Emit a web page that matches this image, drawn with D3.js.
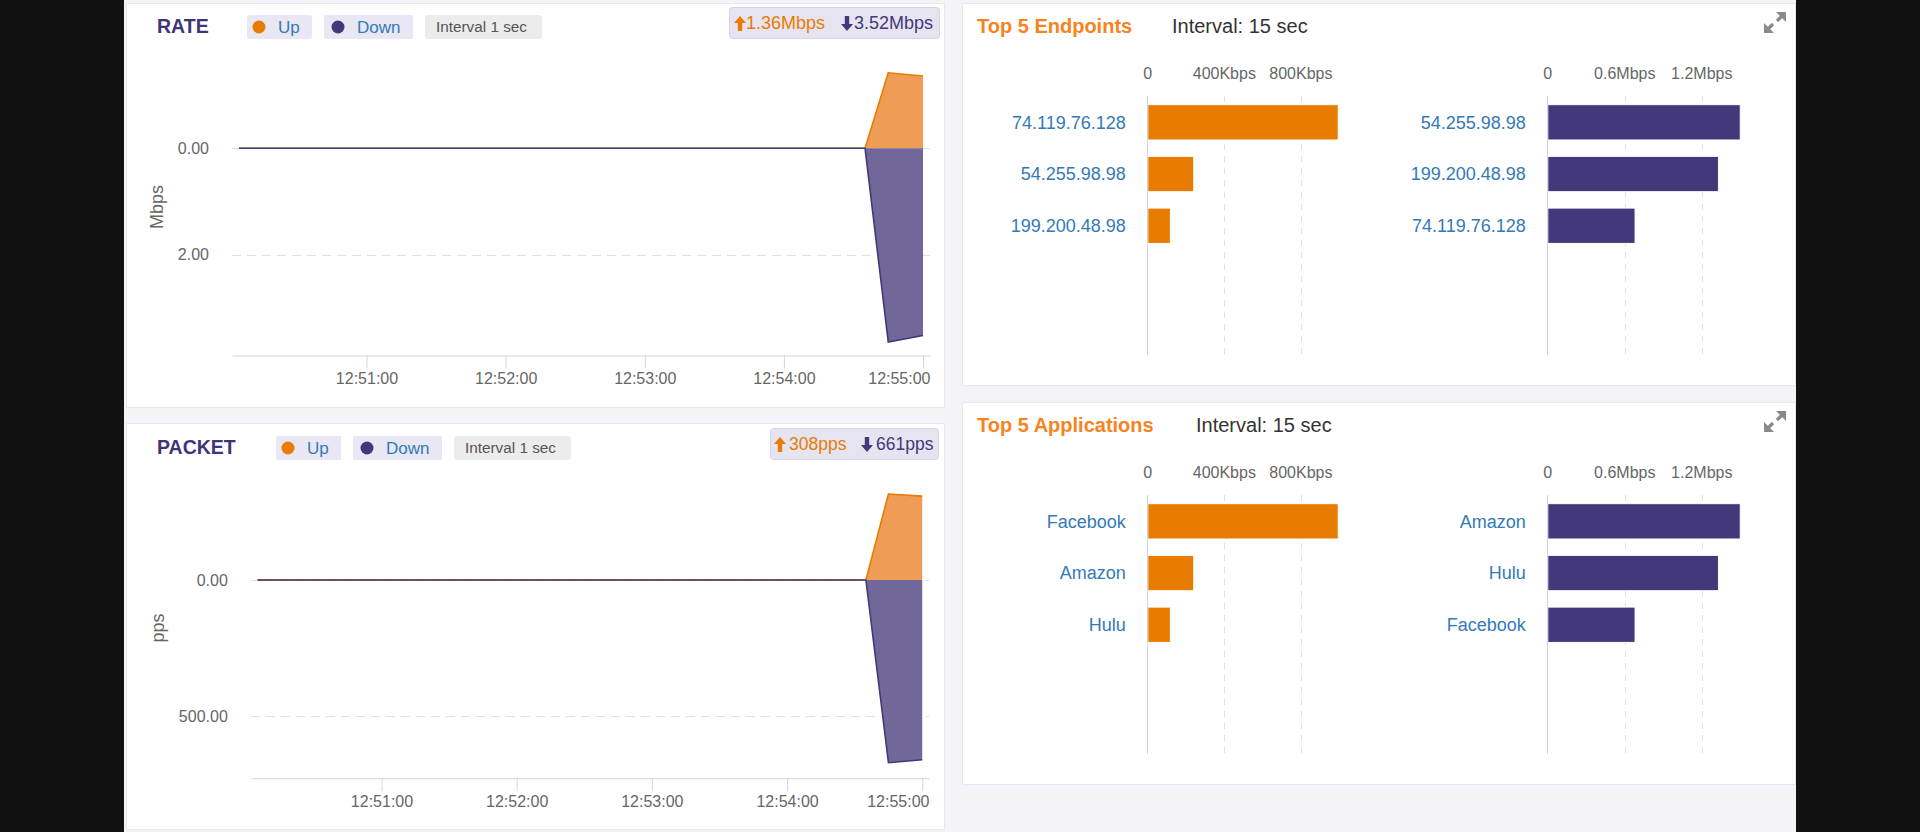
<!DOCTYPE html>
<html><head><meta charset="utf-8">
<script src="https://cdn.jsdelivr.net/npm/d3@7"></script>
<style>
html,body{margin:0;padding:0;background:#111;overflow:hidden;}
svg{display:block;font-family:"Liberation Sans",Arial,Helvetica,sans-serif;}
</style></head><body>
<svg id="c" width="1920" height="832"></svg>
<script>
// ---------- data ----------
const timeDomain = ["12:50:02","12:55:03"];
const timeTicks = ["12:51:00","12:52:00","12:53:00","12:54:00","12:55:00"];
const sampleTimes = ["12:50:05","12:54:35","12:54:45","12:55:00"];
const rateUp = [0, 0, 1.42, 1.36];
const rateDown = [0, 0, 3.64, 3.52];
const rateTicks = [0, 2];
const packetUp = [0, 0, 316, 308];
const packetDown = [0, 0, 672, 661];
const packetTicks = [0, 500];
const rateSummary = ["1.36Mbps", "3.52Mbps"];
const packetSummary = ["308pps", "661pps"];

const endpointsUpNames = ["74.119.76.128", "54.255.98.98", "199.200.48.98"];
const endpointsUpKbps = [995, 240, 118];
const endpointsDownNames = ["54.255.98.98", "199.200.48.98", "74.119.76.128"];
const endpointsDownMbps = [1.50, 1.33, 0.68];
const appsUpNames = ["Facebook", "Amazon", "Hulu"];
const appsUpKbps = [995, 240, 118];
const appsDownNames = ["Amazon", "Hulu", "Facebook"];
const appsDownMbps = [1.50, 1.33, 0.68];
const upTicks = [0, 400, 800];
const upTickLabels = ["0", "400Kbps", "800Kbps"];
const downTicks = [0, 0.6, 1.2];
const downTickLabels = ["0", "0.6Mbps", "1.2Mbps"];

// ---------- colours ----------
const ORANGE = "#E87C00", ORANGE_FILL = "#EF9D56";
const PURPLE = "#433879", PURPLE_FILL = "#726799";
const LINK = "#337ab7";

const svg = d3.select("#c");
svg.append("rect").attr("width",1920).attr("height",832).attr("fill","#111");
svg.append("rect").attr("x",124).attr("width",1672).attr("height",832).attr("fill","#f3f3f8");

function panel(x,y,w,h){
  svg.append("rect").attr("x",x+0.5).attr("y",y+0.5).attr("width",w).attr("height",h)
    .attr("fill","#fff").attr("stroke","#e7e7ee");
}
panel(126,3,818,404);
panel(126,423,818,406);
panel(962,3,833,382);
panel(962,402,833,382);

const parseT = d3.timeParse("%H:%M:%S");
const fmtT = d3.timeFormat("%H:%M:%S");

function arrow(g, cx, top, dir, color){
  const h = 15, hw = 6, sw = 2.2, hh = 7;
  let p;
  if(dir==="up"){
    p = `M${cx},${top} L${cx+hw},${top+hh} L${cx+sw},${top+hh} L${cx+sw},${top+h} L${cx-sw},${top+h} L${cx-sw},${top+hh} L${cx-hw},${top+hh} Z`;
  } else {
    const b = top+h;
    p = `M${cx},${b} L${cx+hw},${b-hh} L${cx+sw},${b-hh} L${cx+sw},${top} L${cx-sw},${top} L${cx-sw},${b-hh} L${cx-hw},${b-hh} Z`;
  }
  g.append("path").attr("d",p).attr("fill",color);
}

function timeChart(o){
  const g = svg.append("g");
  const T = o.top;
  // header
  g.append("text").attr("x",157).attr("y",T+29.5).text(o.title)
    .attr("font-size",19.5).attr("font-weight","bold").attr("fill","#3e3578");
  // Up pill
  g.append("rect").attr("x",o.upX).attr("y",T+12).attr("width",65).attr("height",24).attr("rx",2).attr("fill","#e9e7f3");
  g.append("circle").attr("cx",o.upX+12).attr("cy",T+24).attr("r",6.5).attr("fill",ORANGE);
  g.append("text").attr("x",o.upX+31).attr("y",T+30).text("Up").attr("font-size",17).attr("fill",LINK);
  // Down pill
  g.append("rect").attr("x",o.downX).attr("y",T+12).attr("width",89).attr("height",24).attr("rx",2).attr("fill","#e9e7f3");
  g.append("circle").attr("cx",o.downX+14).attr("cy",T+24).attr("r",6.5).attr("fill",PURPLE);
  g.append("text").attr("x",o.downX+33).attr("y",T+30).text("Down").attr("font-size",17).attr("fill",LINK);
  // Interval pill
  g.append("rect").attr("x",o.intX).attr("y",T+12).attr("width",117).attr("height",24).attr("rx",3).attr("fill","#ececec");
  g.append("text").attr("x",o.intX+11).attr("y",T+29).text("Interval 1 sec").attr("font-size",15.3).attr("fill","#555");
  // badge
  g.append("rect").attr("x",o.badge[0]+0.5).attr("y",T+4.5).attr("width",o.badge[1]-o.badge[0]).attr("height",31)
    .attr("rx",3).attr("fill","#e6e4f1").attr("stroke","#d6d4e6");
  arrow(g, o.badgeArrows[0], T+13, "up", ORANGE);
  g.append("text").attr("x",o.badgeText[0]).attr("y",T+25.5).text(o.summary[0]).attr("font-size",o.badgeFont).attr("fill",ORANGE);
  arrow(g, o.badgeArrows[1], T+13, "down", PURPLE);
  g.append("text").attr("x",o.badgeText[1]).attr("y",T+25.5).text(o.summary[1]).attr("font-size",o.badgeFont).attr("fill",PURPLE);

  // scales
  const x = d3.scaleTime().domain(timeDomain.map(parseT)).range(o.xRange);
  const y = d3.scaleLinear().domain(o.yDomain).range(o.yRange);

  // gridlines
  g.append("g").selectAll("line").data(o.ticks).join("line")
    .attr("x1",o.xRange[0]).attr("x2",o.xRange[1])
    .attr("y1",d=>Math.round(y(d))+0.5).attr("y2",d=>Math.round(y(d))+0.5)
    .attr("stroke","#e0e0e0").attr("stroke-dasharray","9,6");
  // y labels
  g.append("g").selectAll("text").data(o.ticks).join("text")
    .attr("x",o.xRange[0]-23).attr("y",d=>y(d)+5.7).attr("text-anchor","end")
    .attr("font-size",16).attr("fill","#666").text(d=>d3.format(".2f")(d));
  // y title
  g.append("text").attr("transform",`translate(${o.yTitlePos[0]},${o.yTitlePos[1]}) rotate(-90)`)
    .attr("text-anchor","middle").attr("dy","0.35em").attr("font-size",18).attr("fill","#666").text(o.yTitle);

  const rows = sampleTimes.map((t,i)=>({t:parseT(t), up:o.up[i], down:o.down[i]}));
  const areaUp = d3.area().x(d=>x(d.t)).y0(y(0)).y1(d=>y(-d.up));
  const lineUp = d3.line().x(d=>x(d.t)).y(d=>y(-d.up));
  const areaDown = d3.area().x(d=>x(d.t)).y0(y(0)).y1(d=>y(d.down));
  const lineDown = d3.line().x(d=>x(d.t)).y(d=>y(d.down));
  g.append("path").datum(rows).attr("d",areaUp).attr("fill",ORANGE_FILL);
  g.append("path").datum(rows).attr("d",areaDown).attr("fill",PURPLE_FILL);
  g.append("path").datum(rows).attr("d",lineUp).attr("fill","none").attr("stroke",ORANGE).attr("stroke-width",1.6);
  g.append("path").datum(rows).attr("d",lineDown).attr("fill","none").attr("stroke",PURPLE).attr("stroke-width",1.6);

  // x axis
  const tickDates = timeTicks.map(parseT);
  const ax = d3.axisBottom(x).tickValues(tickDates).tickFormat(fmtT).tickSize(13).tickSizeOuter(0);
  const axg = g.append("g").attr("transform",`translate(0,${o.yRange[1]+0.5})`).call(ax);
  axg.select(".domain").attr("stroke","#ccd6eb");
  axg.selectAll(".tick line").attr("stroke","#ccd6eb");
  axg.selectAll(".tick text").attr("y",17.3).attr("font-size",16).attr("fill","#666")
    .attr("font-family",'"Liberation Sans",Arial,sans-serif');
  const last = tickDates[tickDates.length-1];
  axg.selectAll(".tick text").filter(d=>+d===+last)
    .attr("text-anchor","end").attr("x",o.xRange[1]-x(last));
}

timeChart({
  top:3, title:"RATE", upX:247, downX:324, intX:425,
  badge:[729,939], badgeArrows:[740,847], badgeText:[746,854], badgeFont:18, summary:rateSummary,
  xRange:[232,930], yRange:[60,355], yDomain:[-1.66,3.885], ticks:rateTicks,
  up:rateUp, down:rateDown, yTitle:"Mbps", yTitlePos:[157,207]
});
timeChart({
  top:424, title:"PACKET", upX:276, downX:353, intX:454,
  badge:[770,938], badgeArrows:[780,867], badgeText:[789,876], badgeFont:17.5, summary:packetSummary,
  xRange:[250.8,929], yRange:[479.3,777.7], yDomain:[-370,727], ticks:packetTicks,
  up:packetUp, down:packetDown, yTitle:"pps", yTitlePos:[158,628]
});

// ---------- bar charts ----------
function expandIcon(x0,y0){
  const c = "#8a8a8a";
  svg.append("path").attr("d",`M${x0+12},${y0} L${x0+22},${y0} L${x0+22},${y0+10} Z`).attr("fill",c);
  svg.append("line").attr("x1",x0+18).attr("y1",y0+4).attr("x2",x0+13).attr("y2",y0+9).attr("stroke",c).attr("stroke-width",3.2);
  svg.append("path").attr("d",`M${x0},${y0+11} L${x0},${y0+21} L${x0+10},${y0+21} Z`).attr("fill",c);
  svg.append("line").attr("x1",x0+4).attr("y1",y0+17).attr("x2",x0+9).attr("y2",y0+12).attr("stroke",c).attr("stroke-width",3.2);
}

function barChart(o){
  const g = svg.append("g");
  const T = o.top;
  const x = d3.scaleLinear().domain([0,o.xMax]).range([o.axisX, o.xEnd]);
  const yb = d3.scaleBand().domain(d3.range(5)).range([T+93.5, T+352]).paddingInner(0.317).paddingOuter(0.158);
  // grid
  g.selectAll(".grid").data(o.ticks.slice(1)).join("line")
    .attr("x1",d=>Math.round(x(d))+0.5).attr("x2",d=>Math.round(x(d))+0.5)
    .attr("y1",T+93).attr("y2",T+352).attr("stroke","#e0e0e0").attr("stroke-dasharray","6,6");
  // tick labels
  g.selectAll(".tl").data(o.ticks).join("text")
    .attr("x",d=>x(d)).attr("y",T+75.7).attr("text-anchor","middle")
    .attr("font-size",16).attr("fill","#666").text((d,i)=>o.tickLabels[i]);
  // bars
  g.selectAll(".bar").data(o.values).join("rect")
    .attr("x",x(0)).attr("y",(d,i)=>yb(i)).attr("width",d=>x(d)-x(0)).attr("height",yb.bandwidth())
    .attr("fill",o.color).attr("stroke","#fff").attr("stroke-width",1);
  // axis line
  g.append("line").attr("x1",Math.round(x(0))-0.5).attr("x2",Math.round(x(0))-0.5)
    .attr("y1",T+93).attr("y2",T+352).attr("stroke","#ccd6eb");
  // category labels
  g.selectAll(".cl").data(o.names).join("text")
    .attr("x",o.axisX-22).attr("y",(d,i)=>yb(i)+yb.bandwidth()/2+6.3).attr("text-anchor","end")
    .attr("font-size",18).attr("fill",LINK).text(d=>d);
}

function topPanel(top, title, intX, upNames, upVals, downNames, downVals){
  svg.append("text").attr("x",977).attr("y",top+30).text(title)
    .attr("font-size",20).attr("font-weight","bold").attr("fill","#f7831e");
  svg.append("text").attr("x",intX).attr("y",top+30).text("Interval: 15 sec")
    .attr("font-size",20).attr("fill","#333");
  expandIcon(1764, top+9);
  barChart({top, axisX:1147.8, xMax:1050, xEnd:1147.8+1050*0.19137, ticks:upTicks, tickLabels:upTickLabels,
    names:upNames, values:upVals, color:ORANGE});
  barChart({top, axisX:1547.8, xMax:1.6, xEnd:1547.8+1.6*128.3, ticks:downTicks, tickLabels:downTickLabels,
    names:downNames, values:downVals, color:PURPLE});
}
topPanel(3, "Top 5 Endpoints", 1172, endpointsUpNames, endpointsUpKbps, endpointsDownNames, endpointsDownMbps);
topPanel(402, "Top 5 Applications", 1196, appsUpNames, appsUpKbps, appsDownNames, appsDownMbps);
</script>
</body></html>
